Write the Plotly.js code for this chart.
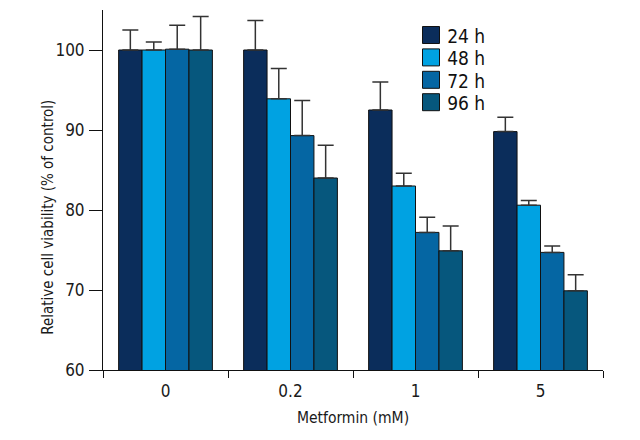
<!DOCTYPE html>
<html>
<head>
<meta charset="utf-8">
<script src="https://cdn.plot.ly/plotly-3.0.1.min.js"></script>
<style>html,body{margin:0;padding:0;background:#fff;}#chart{width:640px;height:440px;}
#chart text{font-stretch:condensed !important;}</style>
</head>
<body>
<div id="chart"></div>
<script>
const categories = ['0', '0.2', '1', '5'];
const seriesNames = ['24 h', '48 h', '72 h', '96 h'];
const v24 = [100, 100, 92.5, 89.8];
const v48 = [100, 93.9, 83.0, 80.6];
const v72 = [100.1, 89.3, 77.2, 74.7];
const v96 = [100, 84.0, 74.9, 69.9];
const e24 = [2.5, 3.7, 3.5, 1.8];
const e48 = [1.0, 3.8, 1.6, 0.6];
const e72 = [3.0, 4.4, 1.9, 0.8];
const e96 = [4.2, 4.1, 3.1, 2.0];
const yTicks = [60, 70, 80, 90, 100];

const colors = ['#0b2d5b', '#00a2e2', '#0566a3', '#06577d'];
const vals = [v24, v48, v72, v96];
const errs = [e24, e48, e72, e96];
const fontFam = '"DejaVu Sans", sans-serif';

const W = 640, H = 440, M = {l: 103, r: 37, t: 10, b: 70};
const pw = W - M.l - M.r, ph = H - M.t - M.b;
const px2x = p => (p - M.l) / pw;
const px2y = p => (H - M.b - p) / ph;

const data = seriesNames.map((name, i) => ({
  type: 'bar',
  name: name,
  x: categories,
  y: vals[i],
  marker: {color: colors[i], line: {color: '#111', width: 1}},
  error_y: {type: 'data', symmetric: false, array: errs[i], arrayminus: errs[i].map(() => 0),
            color: '#333', thickness: 1.5, width: 8}
}));

// custom legend (17px boxes, 22px row pitch)
const shapes = [], annotations = [];
seriesNames.forEach((name, i) => {
  const cy = 35 + i * 22.4;
  shapes.push({type: 'rect', xref: 'paper', yref: 'paper',
    x0: px2x(422.5), x1: px2x(439.5), y0: px2y(cy + 8.5), y1: px2y(cy - 8.5),
    fillcolor: colors[i], line: {color: '#111', width: 1}});
  annotations.push({xref: 'paper', yref: 'paper', x: px2x(443), y: px2y(cy + 1),
    xanchor: 'left', yanchor: 'middle', showarrow: false, text: name,
    font: {size: 19, family: fontFam, color: '#111'}});
});
annotations.push({xref: 'paper', yref: 'paper', x: px2x(48), y: px2y(217),
  xanchor: 'center', yanchor: 'middle', showarrow: false, textangle: -90,
  text: 'Relative cell viability (% of control)', font: {size: 15, family: fontFam, color: '#1a1a1a'}});

const layout = {
  width: W, height: H,
  margin: M,
  paper_bgcolor: '#fff', plot_bgcolor: '#fff',
  font: {family: fontFam, color: '#1a1a1a', size: 15},
  barmode: 'group',
  bargap: 0.25, bargroupgap: 0,
  showlegend: false,
  shapes: shapes,
  annotations: annotations,
  xaxis: {
    type: 'category', showline: true, linecolor: '#111', linewidth: 1,
    ticks: 'outside', tickson: 'boundaries', ticklen: 7, tickcolor: '#111',
    showgrid: false, zeroline: false, tickfont: {size: 17}, ticklabelstandoff: 6,
    title: {text: 'Metformin (mM)', font: {size: 15.5}, standoff: 11}
  },
  yaxis: {
    range: [60, 105], showline: true, linecolor: '#111', linewidth: 1,
    ticks: 'outside', ticklen: 13, tickcolor: '#111',
    tickvals: yTicks, ticktext: yTicks.map(String),
    showgrid: false, zeroline: false, tickfont: {size: 17}, ticklabelstandoff: 1
  }
};

Plotly.newPlot('chart', data, layout, {displayModeBar: false, staticPlot: true});
</script>
</body>
</html>
